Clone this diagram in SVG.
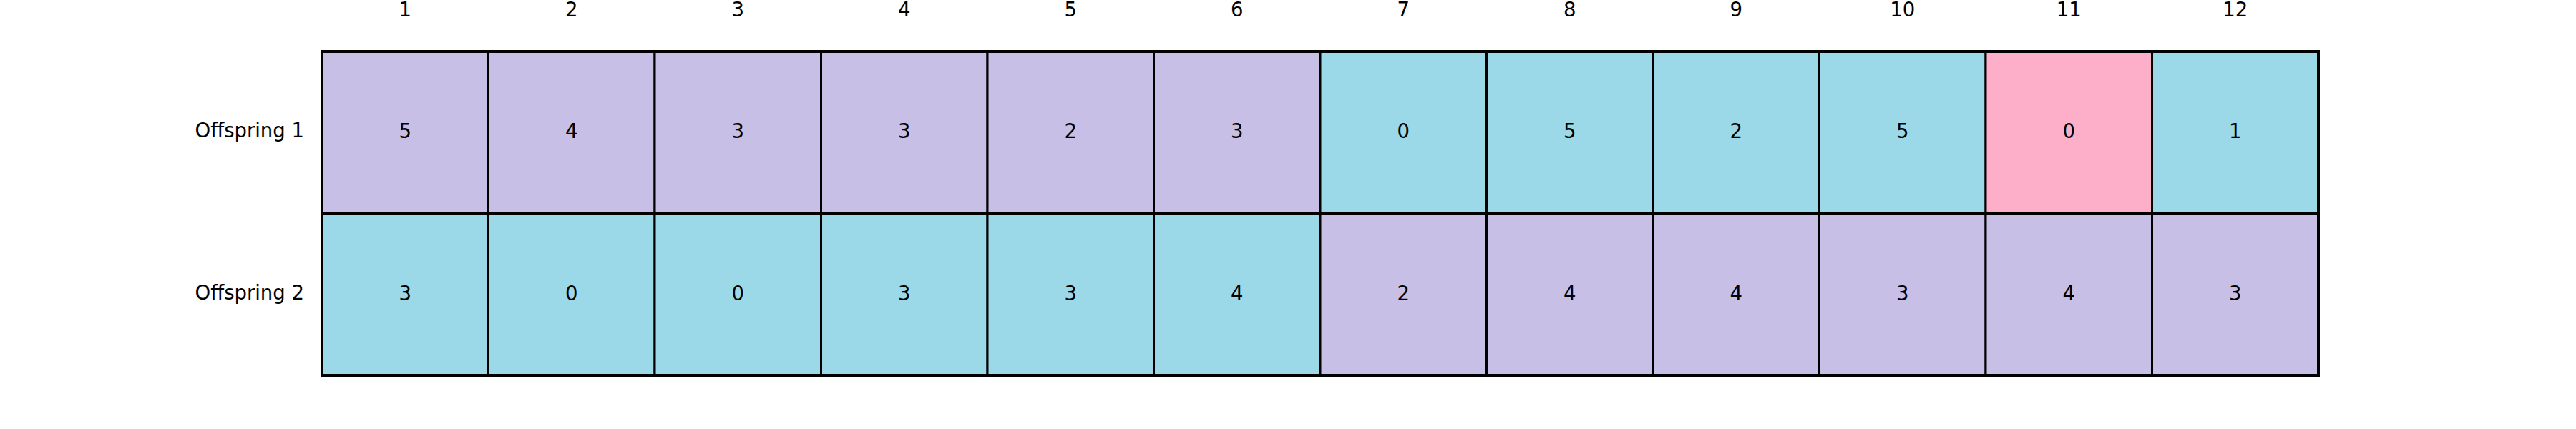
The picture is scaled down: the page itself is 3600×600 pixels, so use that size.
<svg xmlns="http://www.w3.org/2000/svg" width="3600" height="600" viewBox="0 0 3600 600">
<style>
text{font-family:"DejaVu Sans","Liberation Sans",sans-serif;font-size:27.5px;fill:#000;text-anchor:middle}
.lbl{text-anchor:end}
.c{stroke:#000;stroke-width:3}
.p{fill:#C8BFE7}
.b{fill:#9BD9E9}
.k{fill:#FDAEC8}
</style>
<rect width="3600" height="600" fill="#fff"/>
<g id="headers">
<text x="566.25" y="23">1</text>
<text x="798.75" y="23">2</text>
<text x="1031.25" y="23">3</text>
<text x="1263.75" y="23">4</text>
<text x="1496.25" y="23">5</text>
<text x="1728.75" y="23">6</text>
<text x="1961.25" y="23">7</text>
<text x="2193.75" y="23">8</text>
<text x="2426.25" y="23">9</text>
<text x="2658.75" y="23">10</text>
<text x="2891.25" y="23">11</text>
<text x="3123.75" y="23">12</text>
</g>
<g id="row-labels">
<text class="lbl" x="425" y="192">Offspring 1</text>
<text class="lbl" x="425" y="419">Offspring 2</text>
</g>
<g id="offspring1">
<rect class="c p" x="450" y="72" width="232.5" height="226.5"/><text x="566.25" y="193">5</text>
<rect class="c p" x="682.5" y="72" width="232.5" height="226.5"/><text x="798.75" y="193">4</text>
<rect class="c p" x="915" y="72" width="232.5" height="226.5"/><text x="1031.25" y="193">3</text>
<rect class="c p" x="1147.5" y="72" width="232.5" height="226.5"/><text x="1263.75" y="193">3</text>
<rect class="c p" x="1380" y="72" width="232.5" height="226.5"/><text x="1496.25" y="193">2</text>
<rect class="c p" x="1612.5" y="72" width="232.5" height="226.5"/><text x="1728.75" y="193">3</text>
<rect class="c b" x="1845" y="72" width="232.5" height="226.5"/><text x="1961.25" y="193">0</text>
<rect class="c b" x="2077.5" y="72" width="232.5" height="226.5"/><text x="2193.75" y="193">5</text>
<rect class="c b" x="2310" y="72" width="232.5" height="226.5"/><text x="2426.25" y="193">2</text>
<rect class="c b" x="2542.5" y="72" width="232.5" height="226.5"/><text x="2658.75" y="193">5</text>
<rect class="c k" x="2775" y="72" width="232.5" height="226.5"/><text x="2891.25" y="193">0</text>
<rect class="c b" x="3007.5" y="72" width="232.5" height="226.5"/><text x="3123.75" y="193">1</text>
</g>
<g id="offspring2">
<rect class="c b" x="450" y="298.5" width="232.5" height="226.5"/><text x="566.25" y="420">3</text>
<rect class="c b" x="682.5" y="298.5" width="232.5" height="226.5"/><text x="798.75" y="420">0</text>
<rect class="c b" x="915" y="298.5" width="232.5" height="226.5"/><text x="1031.25" y="420">0</text>
<rect class="c b" x="1147.5" y="298.5" width="232.5" height="226.5"/><text x="1263.75" y="420">3</text>
<rect class="c b" x="1380" y="298.5" width="232.5" height="226.5"/><text x="1496.25" y="420">3</text>
<rect class="c b" x="1612.5" y="298.5" width="232.5" height="226.5"/><text x="1728.75" y="420">4</text>
<rect class="c p" x="1845" y="298.5" width="232.5" height="226.5"/><text x="1961.25" y="420">2</text>
<rect class="c p" x="2077.5" y="298.5" width="232.5" height="226.5"/><text x="2193.75" y="420">4</text>
<rect class="c p" x="2310" y="298.5" width="232.5" height="226.5"/><text x="2426.25" y="420">4</text>
<rect class="c p" x="2542.5" y="298.5" width="232.5" height="226.5"/><text x="2658.75" y="420">3</text>
<rect class="c p" x="2775" y="298.5" width="232.5" height="226.5"/><text x="2891.25" y="420">4</text>
<rect class="c p" x="3007.5" y="298.5" width="232.5" height="226.5"/><text x="3123.75" y="420">3</text>
</g>
<g id="frame">
<rect x="450" y="72" width="2790" height="453" fill="none" stroke="#000" stroke-width="4"/>
</g>
</svg>
